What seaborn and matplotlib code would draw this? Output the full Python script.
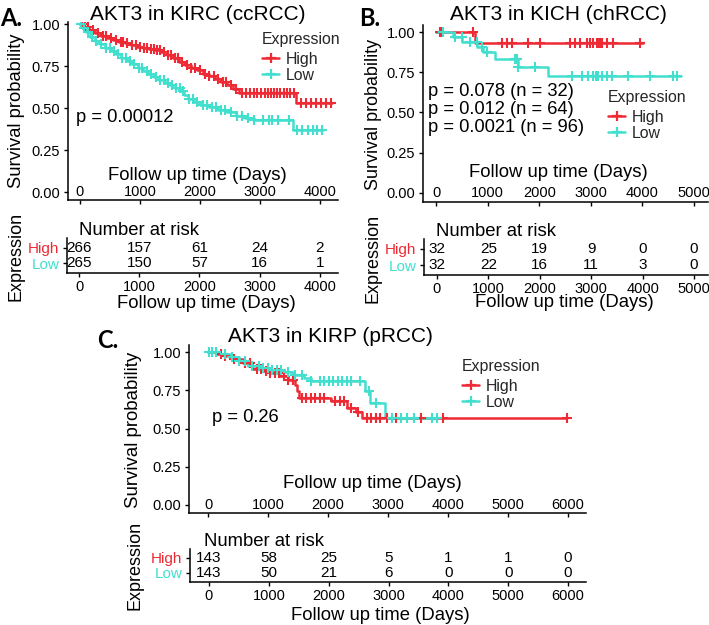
import numpy as np
import matplotlib
matplotlib.use('Agg')
import matplotlib.pyplot as plt
from matplotlib.lines import Line2D
import seaborn as sns

# ---------------- data ----------------
RED = '#EE2A35'
CYAN = '#42DFCF'

# Panel A  (KIRC)
a_high_t = [0, 60, 150, 250, 350, 450, 550, 650, 750, 850, 950, 1050, 1150, 1250, 1350, 1450, 1550,
            1650, 1750, 1850, 1950, 2050, 2150, 2250, 2350, 2450, 2550, 2650, 3600]
a_high_s = [1.0, 0.985, 0.965, 0.945, 0.93, 0.915, 0.905, 0.895, 0.885, 0.875, 0.865, 0.857, 0.85, 0.845,
            0.835, 0.815, 0.795, 0.775, 0.755, 0.74, 0.725, 0.705, 0.69, 0.67, 0.655, 0.635, 0.615, 0.59, 0.53]
a_high_end = 4200
a_high_cens = [30, 80, 140, 210, 300, 380, 430, 520, 600, 680, 720, 790, 860, 930, 1000, 1060, 1120, 1180,
               1230, 1290, 1340, 1400, 1460, 1520, 1580, 1640, 1700, 1780, 1850, 1920, 2000, 2080, 2150,
               2230, 2300, 2380, 2440, 2520, 2600, 2700, 2760, 2830, 2900, 2950, 3020, 3080, 3130, 3180,
               3230, 3280, 3330, 3400, 3450, 3500, 3560, 3680, 3760, 3850, 3930, 4010, 4100, 4180]
a_low_t = [0, 40, 100, 170, 250, 330, 420, 510, 600, 690, 780, 870, 960, 1050, 1140, 1230, 1320, 1410,
           1500, 1590, 1680, 1740, 1800, 1900, 2000, 2150, 2300, 2450, 2600, 2750, 2900, 3550]
a_low_s = [1.0, 0.975, 0.95, 0.925, 0.9, 0.88, 0.86, 0.84, 0.82, 0.8, 0.78, 0.76, 0.74, 0.72, 0.7, 0.685,
           0.665, 0.65, 0.635, 0.62, 0.6, 0.575, 0.555, 0.535, 0.52, 0.505, 0.49, 0.475, 0.455, 0.44, 0.43, 0.37]
a_low_end = 4050
a_low_cens = [20, 70, 130, 200, 270, 350, 430, 500, 560, 640, 700, 760, 830, 900, 980, 1040, 1110, 1180,
              1260, 1330, 1400, 1460, 1530, 1600, 1660, 1720, 1820, 1880, 1950, 2050, 2120, 2200, 2270,
              2350, 2420, 2520, 2620, 2700, 2800, 2900, 3050, 3150, 3200, 3300, 3480, 3620, 3700, 3800,
              3880, 3950, 4030]
a_risk_times = [0, 1000, 2000, 3000, 4000]
a_risk_high = [266, 157, 61, 24, 2]
a_risk_low = [265, 150, 57, 16, 1]

# Panel B  (KICH)
b_high_t = [0, 760]
b_high_s = [1.0, 0.932]
b_high_end = 4020
b_high_cens = [78, 123, 723, 1273, 1370, 1466, 1789, 2016, 2597, 2694, 2791, 2920, 2984, 3049, 3114,
               3146, 3178, 3211, 3307, 3437, 3953]
b_low_t = [0, 330, 500, 800, 910, 1150, 1590, 2180]
b_low_s = [1.0, 0.969, 0.938, 0.906, 0.875, 0.83, 0.78, 0.725]
b_low_end = 4750
b_low_cens = [142, 368, 497, 659, 788, 885, 982, 1531, 1563, 1596, 1919, 2629, 2823, 2952, 3049, 3094,
              3146, 3211, 3307, 3404, 3727, 4147, 4599, 4664]
b_risk_times = [0, 1000, 2000, 3000, 4000, 5000]
b_risk_high = [32, 25, 19, 9, 0, 0]
b_risk_low = [32, 22, 16, 11, 3, 0]

# Panel C  (KIRP)
c_high_t = [0, 150, 285, 400, 585, 735, 900, 1035, 1200, 1335, 1448, 1485, 1522, 2048, 2310, 2460, 2572]
c_high_s = [1.0, 0.99, 0.975, 0.955, 0.93, 0.89, 0.875, 0.86, 0.84, 0.82, 0.786, 0.742, 0.70, 0.677,
            0.633, 0.611, 0.568]
c_high_end = 5985
c_high_cens = [135, 210, 285, 435, 622, 697, 810, 885, 960, 1035, 1110, 1185, 1260, 1335, 1410, 1560,
               1635, 1710, 1785, 1860, 1935, 2123, 2198, 2273, 2385, 2498, 2648, 2723, 2798, 2873, 2985,
               3135, 3548, 3923, 5985]
c_low_t = [0, 200, 360, 510, 660, 850, 1035, 1250, 1410, 1600, 1710, 2610, 2700, 2948]
c_low_s = [1.0, 0.985, 0.965, 0.94, 0.906, 0.895, 0.884, 0.87, 0.85, 0.83, 0.81, 0.742, 0.666, 0.568]
c_low_end = 3810
c_low_cens = [15, 60, 135, 285, 397, 510, 622, 735, 847, 922, 997, 1072, 1147, 1222, 1335, 1447, 1560,
              1710, 1860, 1935, 2010, 2085, 2160, 2235, 2310, 2385, 2535, 2685, 2798, 3060, 3210, 3323,
              3435, 3735, 3810]
c_risk_times = [0, 1000, 2000, 3000, 4000, 5000, 6000]
c_risk_high = [143, 58, 25, 5, 1, 1, 0]
c_risk_low = [143, 50, 21, 6, 0, 0, 0]

y_ticks = [0.0, 0.25, 0.50, 0.75, 1.00]
y_tick_labels = ['0.00', '0.25', '0.50', '0.75', '1.00']

# ---------------- style ----------------
sns.set_theme(style='ticks')
plt.rcParams['font.family'] = ['Liberation Sans', 'DejaVu Sans']
plt.rcParams['axes.linewidth'] = 1.1

W, H = 709, 625
fig = plt.figure(figsize=(W / 100, H / 100), dpi=100)
fig.patch.set_facecolor('white')


def add_ax(l, t, r, b):
    ax = fig.add_axes([l / W, 1 - b / H, (r - l) / W, (b - t) / H])
    ax.set_facecolor('white')
    return ax


def ftext(x, y, s, **kw):
    fig.text(x / W, 1 - y / H, s, **kw)


def frac(box, px, py):
    l, t, r, b = box
    return (px - l) / (r - l), (b - py) / (b - t)


def km(ax, t, s, t_end, cens, color):
    tt = np.append(np.asarray(t, float), t_end)
    ss = np.append(np.asarray(s, float), s[-1])
    sns.lineplot(x=tt, y=ss, drawstyle='steps-post', color=color, lw=1.8, ax=ax,
                 estimator=None, sort=False)
    idx = np.searchsorted(np.asarray(t, float), np.asarray(cens, float), side='right') - 1
    sns.scatterplot(x=np.asarray(cens, float), y=np.asarray(s, float)[idx], marker='+', s=48,
                    color=color, linewidth=1.5, ax=ax, zorder=3)


def style_spines(ax):
    sns.despine(ax=ax)
    for sp in ('left', 'bottom'):
        ax.spines[sp].set_color('black')
        ax.spines[sp].set_linewidth(1.1)


def surv_panel(box, xlim, ylim, xticks, label_px_above, curves, p_texts, p_left, p_ys,
               title, title_xy, letter, letter_xy, ylab_xy, ylab_size, xlab_xy, leg_xy):
    ax = add_ax(*box)
    for (t, s, e, c, col) in curves:
        km(ax, t, s, e, c, col)
    ax.set_xlim(xlim)
    ax.set_ylim(ylim)
    ax.set_xticks(xticks)
    ax.set_xticklabels([str(v) for v in xticks])
    ax.set_yticks(y_ticks)
    ax.set_yticklabels(y_tick_labels)
    ax.tick_params(axis='both', direction='out', length=3, width=1, colors='black', labelsize=10.5)
    ax.tick_params(axis='y', pad=2.5)
    ax.tick_params(axis='x', pad=-(label_px_above * 0.72) - 3)
    for lb in ax.get_xticklabels():
        lb.set_va('center')
    style_spines(ax)
    ax.set_xlabel('Follow up time (Days)', fontsize=13.3, color='black')
    ax.xaxis.set_label_coords(*frac(box, *xlab_xy))
    ax.xaxis.label.set_va('center')
    ax.set_ylabel('Survival probability', fontsize=ylab_size, color='black')
    ax.yaxis.set_label_coords(*frac(box, *ylab_xy))
    ax.yaxis.label.set_va('center')
    for txt, py in zip(p_texts, p_ys):
        ftext(p_left, py, txt, fontsize=13.2, ha='left', va='center', color='black')
    ftext(title_xy[0], title_xy[1], title, fontsize=15, ha='center', va='center', color='black')
    ftext(letter_xy[0], letter_xy[1], letter, fontsize=17, fontweight='bold', ha='left', va='center',
          family=['Lato', 'DejaVu Sans'], color='black')
    handles = [Line2D([], [], color=RED, lw=1.8, marker='+', markersize=7, mew=1.6),
               Line2D([], [], color=CYAN, lw=1.8, marker='+', markersize=7, mew=1.6)]
    leg = ax.legend(handles, ['High', 'Low'], title='Expression', loc='upper left',
                    bbox_to_anchor=(leg_xy[0] / W, 1 - leg_xy[1] / H), bbox_transform=fig.transFigure,
                    frameon=False, alignment='left', fontsize=11.4, title_fontsize=11.4,
                    handlelength=1.1, handletextpad=0.4, labelspacing=0.05, borderpad=0,
                    borderaxespad=0)
    try:
        leg._legend_box.sep = 3.5
    except Exception:
        pass
    return ax


def risk_panel(box, xlim, xticks, times, high, low, nar_xy, ylab_xy, xlab_xy):
    ax = add_ax(*box)
    ax.set_xlim(xlim)
    ax.set_ylim(0.4, 2.6)
    for tm, hv, lv in zip(times, high, low):
        ax.text(tm, 2, str(hv), ha='center', va='center', fontsize=11, color='black')
        ax.text(tm, 1, str(lv), ha='center', va='center', fontsize=11, color='black')
    ax.set_xticks(xticks)
    ax.set_xticklabels([str(v) for v in xticks])
    ax.set_yticks([1, 2])
    ax.set_yticklabels(['Low', 'High'])
    ax.tick_params(axis='both', direction='out', length=3, width=1, colors='black', labelsize=10.5)
    ax.tick_params(axis='x', pad=14 * 0.72 - 3)
    ax.tick_params(axis='y', labelsize=11, pad=2.5)
    for lb in ax.get_xticklabels():
        lb.set_va('center')
    yl = ax.get_yticklabels()
    yl[0].set_color(CYAN)
    yl[1].set_color(RED)
    style_spines(ax)
    ax.set_xlabel('Follow up time (Days)', fontsize=13.3, color='black')
    ax.xaxis.set_label_coords(*frac(box, *xlab_xy))
    ax.xaxis.label.set_va('center')
    ax.set_ylabel('Expression', fontsize=13, color='black')
    ax.yaxis.set_label_coords(*frac(box, *ylab_xy))
    ax.yaxis.label.set_va('center')
    ftext(nar_xy[0], nar_xy[1], 'Number at risk', fontsize=13.3, ha='left', va='center', color='black')
    return ax


# ---------------- Panel A ----------------
boxA = (68, 22, 338, 200)
xlimA = (-200, 4300)
surv_panel(boxA, xlimA, (-8 / 168, 1 + 2 / 168), [0, 1000, 2000, 3000, 4000], 8,
           [(a_high_t, a_high_s, a_high_end, a_high_cens, RED),
            (a_low_t, a_low_s, a_low_end, a_low_cens, CYAN)],
           ['p = 0.00012'], 76, [118],
           'AKT3 in KIRC (ccRCC)', (198, 14), 'A.', (0, 19), (17, 111), 13.2, (197.5, 175), (262, 32))
risk_panel((67, 238, 338, 273), xlimA, [0, 1000, 2000, 3000, 4000],
           a_risk_times, a_risk_high, a_risk_low, (79, 231), (16, 256), (206, 303))

# ---------------- Panel B ----------------
boxB = (423, 25, 708, 202)
xlimB = (-252, 5271)
surv_panel(boxB, xlimB, (-9 / 161, 1 + 7 / 161), [0, 1000, 2000, 3000, 4000, 5000], 9,
           [(b_high_t, b_high_s, b_high_end, b_high_cens, RED),
            (b_low_t, b_low_s, b_low_end, b_low_cens, CYAN)],
           ['p = 0.078 (n = 32)', 'p = 0.012 (n = 64)', 'p = 0.0021 (n = 96)'], 428, [92, 110, 128],
           'AKT3 in KICH (chRCC)', (558, 15), 'B.', (359, 19), (373, 114), 12.9, (558, 173), (608, 90))
risk_panel((424, 239, 708, 275), xlimB, [0, 1000, 2000, 3000, 4000, 5000],
           b_risk_times, b_risk_high, b_risk_low, (436, 232), (373, 258), (564, 303))

# ---------------- Panel C ----------------
boxC = (189, 345, 586, 513)
xlimC = (-317, 6300)
surv_panel(boxC, xlimC, (-8 / 153, 1 + 7 / 153), [0, 1000, 2000, 3000, 4000, 5000, 6000], 8,
           [(c_high_t, c_high_s, c_high_end, c_high_cens, RED),
            (c_low_t, c_low_s, c_low_end, c_low_cens, CYAN)],
           ['p = 0.26'], 212, [417],
           'AKT3 in KIRP (pRCC)', (330, 337), 'C.', (97, 341), (134, 430), 13.4, (372, 484), (462, 359))
risk_panel((190, 549, 586, 582), xlimC, [0, 1000, 2000, 3000, 4000, 5000, 6000],
           c_risk_times, c_risk_high, c_risk_low, (204, 541), (135, 565), (380, 616))

fig.savefig('out.png', dpi=100, facecolor='white')
